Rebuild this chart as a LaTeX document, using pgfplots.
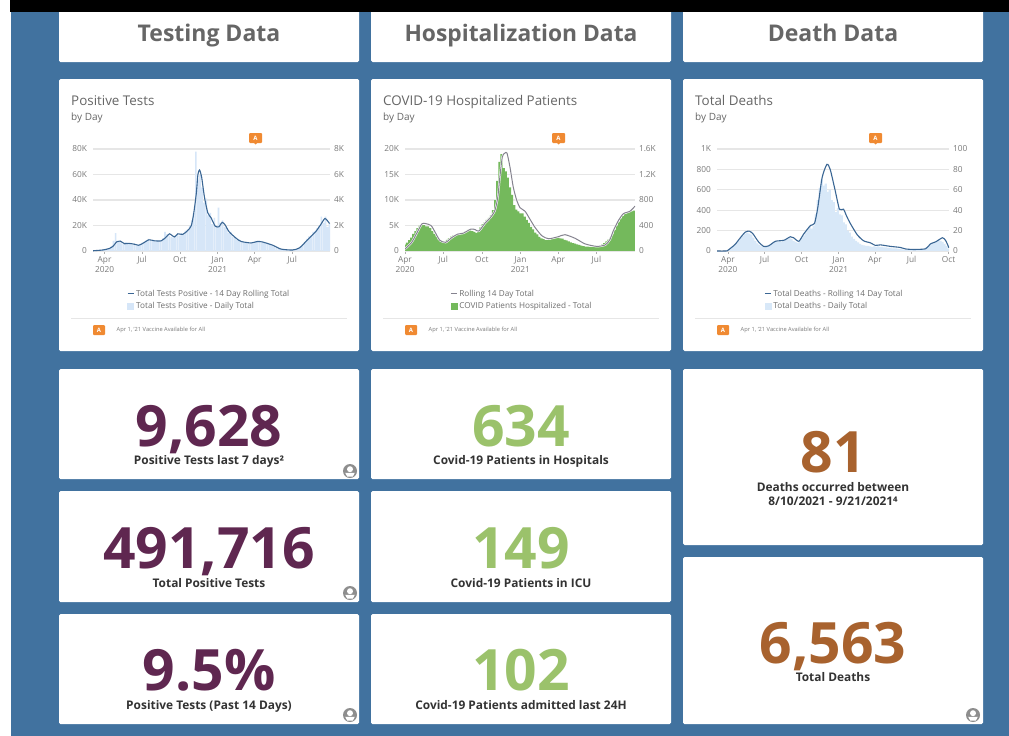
\documentclass[border=0pt]{standalone}
\usepackage{fontspec}
\setmainfont{Open Sans}
\usepackage{pgfplots}
\usepackage{pgfplotstable}
\pgfplotsset{compat=1.18}
\definecolor{bgblue}{HTML}{41729F}
\definecolor{titlegray}{HTML}{666666}
\definecolor{ticklab}{HTML}{7A7A7A}
\definecolor{gridc}{HTML}{E6E6E6}
\definecolor{flag}{HTML}{F08A32}
\definecolor{lineblue}{HTML}{3A6694}
\definecolor{barblue}{HTML}{D6E6F8}
\definecolor{barblueb}{HTML}{D8E8F8}
\definecolor{lgreen}{HTML}{74B95C}
\definecolor{lgray}{HTML}{85838F}
\definecolor{purp}{HTML}{5F2750}
\definecolor{numgreen}{HTML}{9BC26B}
\definecolor{brown}{HTML}{A8622E}
\definecolor{lab}{HTML}{333333}
\definecolor{icon}{HTML}{8E8E8E}
\pgfplotsset{
  common/.style={
    scale only axis, width=#1, height=102pt,
    ymin=0, clip=true,
    tick label style={font=\fontsize{8.3}{9.6}\selectfont, text=ticklab},
    x tick label style={align=center, yshift=0.5pt},
    yticklabel style={/pgf/number format/assume math mode=true},
  },
  backax/.style={
    common=#1, axis y line*=right, hide x axis,
    ymajorgrids, grid style={draw=gridc, line width=1.2pt},
    y axis line style={draw=none}, ytick style={draw=none},
    y tick label style={xshift=0.5pt},
    xtick=\empty,
  },
  frontax/.style={
    common=#1, axis x line*=bottom, axis y line*=left,
    y axis line style={draw=none}, ytick style={draw=none},
    x axis line style={draw=gridc, -}, xtick style={draw=ticklab!60, line width=.5pt},
    tick align=outside, major tick length=2.5pt,
    legend cell align=left,
    legend style={draw=none, fill=none, font=\fontsize{8.2}{9}\selectfont, text=ticklab!90!black,
      inner sep=0pt, row sep=0.4pt, /tikz/every even column/.append style={column sep=3.5pt}, anchor=north west},
    legend image code/.code={\draw[##1,line width=1.1pt] (0pt,0pt) -- (6pt,0pt);},
  },
  sq/.style={legend image code/.code={\fill[#1] (0pt,-3pt) rectangle (6pt,3pt);}},
}
\pgfplotstableread{
x y
0 0.4
16 1.7
28 3.5
40 5.3
48 5.4
62 5.0
71 3.8
83 2.1
97 1.7
111 2.6
125 3.3
139 3.5
157 4.3
167 4.2
176 3.9
191 5.5
203 6.5
214 7.9
221 10.5
226 14.5
232 18.5
238 19.2
243 19.2
250 16.5
258 12.5
266 10
274 8.5
286 7.8
298 6.2
310 4.6
326 3.0
342 2.4
365 2.8
381 3.2
405 2.5
429 1.4
457 0.9
477 1.2
488 2.2
496 3.9
508 5.9
520 7.3
536 7.8
548 8.8
}\hosproll
\newcommand\card[4]{\fill[white,rounded corners=1.5pt] (#1,#2) rectangle (#3,#4);}
\newcommand\flagA[2]{%
  \fill[flag,rounded corners=1pt] (#1,#2) rectangle ++(13,10);
  \fill[flag] (#1+5,#2+10) -- ++(3,0) -- ++(-1.5,1.5) -- cycle;
  \node[text=white,font=\bfseries\fontsize{6}{6}\selectfont] at (#1+6.5,#2+5) {A};}
\newcommand\foot[1]{%
  \draw[gridc,line width=1pt] (#1,318) -- ++(276,0);
  \fill[flag,rounded corners=1pt] (#1+22,325) rectangle ++(12,10);
  \node[text=white,font=\bfseries\fontsize{6}{6}\selectfont] at (#1+28,330) {A};
  \node[anchor=west,inner sep=0pt,text=ticklab,font=\fontsize{5.7}{6}\selectfont] at (#1+45.5,329.5) {Apr 1, '21 Vaccine Available for All};}
\newcommand\cardtitle[2]{%
  \node[anchor=base west,inner sep=0pt,text=titlegray,font=\fontsize{13.4}{14}\selectfont] at (#1,105) {#2};
  \node[anchor=base west,inner sep=0pt,text=titlegray,font=\fontsize{10}{11}\selectfont] at (#1,120) {by Day};}
\newcommand\bignum[4]{\node[anchor=base,inner sep=0pt,text=#4,font=\bfseries\fontsize{57}{57}\selectfont] at (#1,#2) {#3};}
\newcommand\statlab[3]{\node[anchor=base,inner sep=0pt,text=lab,font=\bfseries\fontsize{11.9}{13}\selectfont] at (#1,#2) {#3};}
\newcommand\usericon[2]{%
  \fill[icon] (#1,#2) circle (7);
  \fill[white] (#1,#2-1.8) circle (3);
  \fill[white] (#1-4.8,#2+1.8) -- (#1+4.8,#2+1.8) -- (#1+2.8,#2+5.6) -- (#1-2.8,#2+5.6) -- cycle;}
\begin{document}
\begin{tikzpicture}[x=1pt,y=-1pt]
\path[use as bounding box] (0,0) rectangle (1009,736);
\fill[white] (0,0) rectangle (1009,736);
\fill[bgblue] (11,0) rectangle (1009,736);
\foreach \a/\b in {59/359,371/671,683/983}{
  \card{\a}{0}{\b}{62}
  \card{\a}{79}{\b}{351}
}
\foreach \a/\b in {59/359,371/671}{
  \card{\a}{369}{\b}{479}
  \card{\a}{491}{\b}{602}
  \card{\a}{614}{\b}{724}
}
\card{683}{369}{983}{545}
\card{683}{557}{983}{724}
\fill[black] (10,0) rectangle (1009,12);
\node[text=titlegray,font=\bfseries\fontsize{23}{23}\selectfont,anchor=base] at (209,41) {Testing Data};
\node[text=titlegray,font=\bfseries\fontsize{22.8}{23}\selectfont,anchor=base] at (521,41) {Hospitalization Data};
\node[text=titlegray,font=\bfseries\fontsize{23}{23}\selectfont,anchor=base] at (833,41) {Death Data};
\cardtitle{71}{Positive Tests}
\cardtitle{383}{COVID-19 Hospitalized Patients}
\cardtitle{695}{Total Deaths}
\flagA{249}{133}\flagA{552}{133}\flagA{869}{133}
\foot{71}\foot{383}\foot{695}

% ---------- chart 1
\begin{axis}[at={(93pt,-251pt)},anchor=south west,backax=237pt,xmin=-28,xmax=548,ymax=8,
  ytick={0,2,4,6,8},yticklabels={0,2K,4K,6K,8K}]
\addplot[ybar,bar width=1.7pt,draw=none,fill=barblue] coordinates {
(-28,.02)(-23,.03)(-18,.05)(-13,.07)(-8,.08)(-3,.1)(2,.15)(7,.2)(12,.25)(17,.4)(22,.8)(27,1.4)(32,.8)(37,.7)(42,.6)(47,.55)(52,.7)(57,.55)(62,.6)(67,.5)(72,.6)(77,.45)(82,.5)(87,.55)(92,.65)(97,.7)(102,.85)(107,.95)(112,.8)(117,.8)(122,.75)(127,.85)(132,.75)(137,.85)(142,1.0)(147,1.5)(152,1.3)(157,1.2)(162,1.1)(167,1.05)(172,1.2)(177,1.35)(182,1.2)(187,1.4)(192,1.3)(197,1.6)(202,1.7)(207,2.0)(212,2.4)(217,3.0)(222,7.8)(227,5.6)(232,6.0)(237,5.0)(242,3.8)(247,4.1)(252,2.8)(257,3.0)(262,2.1)(267,2.6)(272,2.0)(277,3.4)(282,2.2)(287,2.4)(292,1.9)(297,1.8)(302,1.4)(307,1.5)(312,1.1)(317,1.1)(322,.9)(327,.9)(332,.75)(337,.7)(342,.7)(347,.65)(352,.6)(357,.65)(362,.6)(367,.8)(372,.7)(377,.75)(382,.65)(387,.65)(392,.6)(397,.55)(402,.5)(407,.4)(412,.35)(417,.25)(422,.2)(427,.15)(432,.1)(437,.1)(442,.08)(447,.08)(452,.08)(457,.08)(462,.1)(467,.15)(472,.25)(477,.35)(482,.55)(487,.7)(492,.95)(497,1.15)(502,1.2)(507,1.5)(512,1.55)(517,1.8)(522,2.0)(527,2.7)(532,2.2)(537,2.7)(542,1.9)(547,2.1)};
\end{axis}
\begin{axis}[at={(93pt,-251pt)},anchor=south west,frontax=237pt,xmin=-28,xmax=548,ymax=80,
  ytick={0,20,40,60,80},yticklabels={0,20K,40K,60K,80K},
  xtick={0,91,183,275,365,456},xticklabels={Apr\\2020,Jul,Oct,Jan\\2021,Apr,Jul},
  legend style={at={(0.143,-0.36)}}]
\addplot[lineblue,line width=1.1pt,smooth,tension=.4] coordinates {
(-28,.2)(-4,.8)(12,2)(20,3.5)(30,7.3)(38,7.8)(49,5.7)(59,6)(73,5.3)(83,4.5)(93,6)(108,8.8)(121,8)(138,8)(150,11)(158,13.5)(170,11)(178,13.5)(190,13)(202,16)(211,20)(217,30)(223,45)(227,60)(231,63.5)(236,58)(243,42)(251,30)(259,26)(269,19.5)(278,19)(286,22.5)(293,20.5)(303,15)(320,10)(332,7.5)(356,6.3)(372,7.5)(385,7)(409,4.5)(429,1.5)(457,.8)(474,2.5)(494,9)(514,15.5)(526,21)(536,25.5)(547,21.5)};
\addlegendentry{Total Tests Positive - 14 Day Rolling Total}
\addlegendimage{sq=barblue}
\addlegendentry{Total Tests Positive - Daily Total}
\end{axis}

% ---------- chart 2
\begin{axis}[at={(405pt,-251pt)},anchor=south west,backax=230pt,xmin=0,xmax=548,ymax=1600,
  ytick={0,400,800,1200,1600},yticklabels={0,400,800,1.2K,1.6K}]
\addplot[ybar,bar width=2.3pt,draw=none,fill=lgreen] coordinates {
(0,100)(5,130)(10,170)(15,210)(20,270)(25,310)(30,360)(35,400)(40,410)(45,405)(50,385)(55,385)(60,360)(65,310)(70,270)(75,225)(80,180)(85,150)(90,140)(95,150)(100,175)(105,200)(110,225)(115,240)(120,240)(125,260)(130,265)(135,270)(140,290)(145,310)(150,330)(155,325)(160,310)(165,300)(170,285)(175,320)(180,370)(185,420)(190,450)(195,490)(200,520)(205,560)(210,640)(215,800)(220,1100)(225,1400)(230,1520)(235,1300)(240,1250)(245,1150)(250,1000)(255,880)(260,720)(265,650)(270,620)(275,590)(280,590)(285,540)(290,490)(295,440)(300,380)(305,340)(310,290)(315,260)(320,220)(325,200)(330,185)(335,170)(340,170)(345,175)(350,185)(355,200)(360,210)(365,210)(370,200)(375,195)(380,175)(385,165)(390,150)(395,135)(400,125)(405,115)(410,105)(415,95)(420,85)(425,75)(430,70)(435,68)(440,66)(445,66)(450,66)(455,68)(460,72)(465,85)(470,100)(475,125)(480,150)(485,180)(490,210)(495,260)(500,330)(505,400)(510,460)(515,510)(520,550)(525,580)(530,600)(535,610)(540,620)(545,634)};
\end{axis}
\begin{axis}[at={(405pt,-251pt)},anchor=south west,frontax=230pt,xmin=0,xmax=548,ymax=20,
  ytick={0,5,10,15,20},yticklabels={0,5K,10K,15K,20K},
  xtick={0,91,183,275,365,456},xticklabels={Apr\\2020,Jul,Oct,Jan\\2021,Apr,Jul},
  legend style={at={(0.196,-0.36)}}]
\addplot[white,line width=2pt,smooth,tension=.4,forget plot] table {\hosproll};
\addplot[lgray,line width=1pt,smooth,tension=.4] table {\hosproll};
\addlegendentry{Rolling 14 Day Total}
\addlegendimage{sq=lgreen}
\addlegendentry{COVID Patients Hospitalized - Total}
\end{axis}

% ---------- chart 3
\begin{axis}[at={(717pt,-251pt)},anchor=south west,backax=232pt,xmin=-27,xmax=549,ymax=100,
  ytick={0,20,40,60,80,100},yticklabels={0,20,40,60,80,100}]
\addplot[ybar,bar width=2.1pt,draw=none,fill=barblueb] coordinates {
(-27,0)(-22,0)(-17,0)(-12,0)(-7,0)(-2,.3)(3,1.5)(8,3)(13,4.5)(18,6)(23,8)(28,10.5)(33,13)(38,15)(43,17)(48,18)(53,17)(58,16)(63,13)(68,10)(73,7.5)(78,6)(83,4.5)(88,4)(93,4)(98,5)(103,5.5)(108,7)(113,8)(118,9)(123,9)(128,9.5)(133,9)(138,10)(143,11)(148,12)(153,13)(158,12)(163,10)(168,9)(173,8)(178,10)(183,13)(188,15)(193,18)(198,22)(203,24)(208,22)(213,25)(218,36)(223,50)(228,62)(233,70)(238,64)(243,66)(248,58)(253,60)(258,50)(263,48)(268,38)(273,42)(278,36)(283,35)(288,28)(293,26)(298,20)(303,18)(308,14)(313,12)(318,10)(323,8.5)(328,7)(333,6)(338,5.5)(343,5)(348,5)(353,4.5)(358,4)(363,4.5)(368,4)(373,4.5)(378,4)(383,4)(388,3.5)(393,3.5)(398,3)(403,3)(408,2.5)(413,2.5)(418,2.5)(423,2)(428,2)(433,1.5)(438,1.2)(443,1)(448,1)(453,1)(458,1)(463,1)(468,1)(473,1)(478,1.2)(483,1.5)(488,2)(493,3.5)(498,5)(503,7)(508,7.5)(513,8)(518,9)(523,11)(528,10)(533,9)(538,7)(543,5)(548,2)};
\end{axis}
\begin{axis}[at={(717pt,-251pt)},anchor=south west,frontax=232pt,xmin=-27,xmax=549,ymax=1000,
  ytick={0,200,400,600,800,1000},yticklabels={0,200,400,600,800,1K},
  xtick={0,91,183,275,365,456,548},xticklabels={Apr\\2020,Jul,Oct,Jan\\2021,Apr,Jul,Oct},
  legend style={at={(0.203,-0.36)}}]
\addplot[lineblue,line width=1.1pt,smooth,tension=.4] coordinates {
(-27,0)(-2,1)(6,25)(18,65)(31,130)(43,185)(53,195)(62,170)(76,90)(89,45)(101,50)(118,95)(139,105)(155,140)(163,130)(176,95)(188,165)(205,250)(215,270)(223,420)(234,720)(246,850)(254,800)(266,600)(277,410)(287,410)(295,340)(304,270)(321,160)(337,100)(354,80)(366,55)(379,60)(404,45)(428,35)(441,20)(462,15)(491,22)(503,70)(516,90)(533,130)(541,100)(549,30)};
\addlegendentry{Total Deaths - Rolling 14 Day Total}
\addlegendimage{sq=barblueb}
\addlegendentry{Total Deaths - Daily Total}
\end{axis}

\bignum{209}{446}{9,628}{purp}
\statlab{209}{464}{Positive Tests last 7 days²}
\bignum{209}{568}{491,716}{purp}
\statlab{209}{587}{Total Positive Tests}
\bignum{209}{690}{9.5\%}{purp}
\statlab{209}{709}{Positive Tests (Past 14 Days)}
\bignum{521}{446}{634}{numgreen}
\statlab{521}{464}{Covid-19 Patients in Hospitals}
\bignum{521}{568}{149}{numgreen}
\statlab{521}{587}{Covid-19 Patients in ICU}
\bignum{521}{690}{102}{numgreen}
\statlab{521}{709}{Covid-19 Patients admitted last 24H}
\bignum{833}{472}{81}{brown}
\statlab{833}{491}{Deaths occurred between}
\statlab{833}{505}{8/10/2021 - 9/21/2021⁴}
\bignum{833}{663}{6,563}{brown}
\statlab{833}{681}{Total Deaths}
\usericon{350}{471}\usericon{350}{593}\usericon{350}{715}\usericon{973}{715}
\end{tikzpicture}
\end{document}
